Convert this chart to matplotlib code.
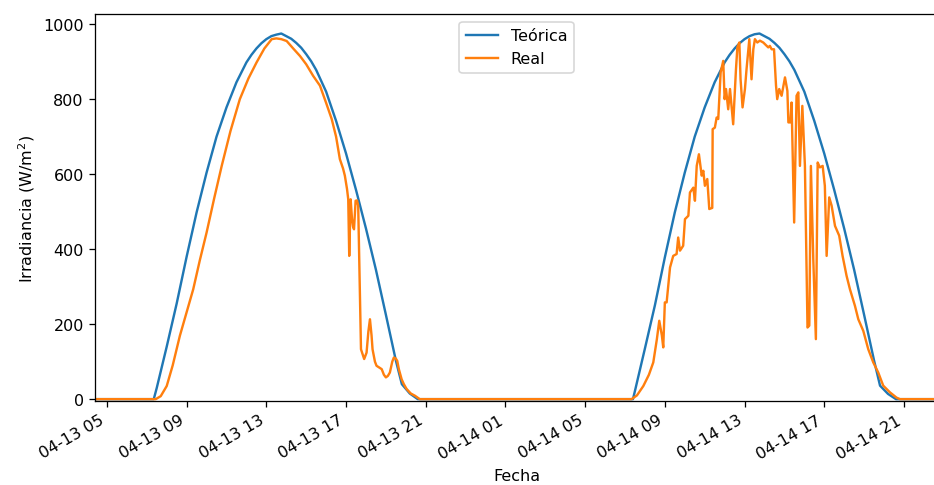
import matplotlib
matplotlib.use('Agg')
import matplotlib.pyplot as plt
import matplotlib.dates as mdates
import pandas as pd

# irradiancia teorica (hora del dia, W/m2)
horas_teo_d1 = [7.35, 7.5, 8.0, 8.5, 9.0, 9.5, 10.0, 10.5, 11.0, 11.5, 12.0, 12.25, 12.5, 12.75, 13.0,
                13.25, 13.5, 13.75, 14.0, 14.25, 14.5, 14.75, 15.0, 15.25, 15.5, 16.0, 16.5, 17.0,
                17.5, 18.0, 18.5, 19.0, 19.5, 19.8, 20.2, 20.6]
teo_d1 = [0, 30, 140, 255, 380, 498, 604, 700, 778, 845, 898, 918, 935, 949, 960,
          968, 972, 975, 968, 961, 950, 937, 920, 901, 878, 820, 742, 655,
          558, 455, 345, 225, 103, 40, 15, 0]
horas_teo_d2 = [7.4, 7.5, 8.0, 8.5, 9.0, 9.5, 10.0, 10.5, 11.0, 11.5, 12.0, 12.25, 12.5, 12.75, 13.0,
                13.25, 13.5, 13.75, 14.0, 14.25, 14.5, 14.75, 15.0, 15.25, 15.5, 16.0, 16.5, 17.0,
                17.5, 18.0, 18.5, 19.0, 19.5, 19.8, 20.2, 20.6]
teo_d2 = [0, 22, 135, 250, 378, 498, 604, 700, 778, 845, 898, 918, 935, 949, 960,
          968, 973, 975, 968, 961, 950, 937, 920, 901, 878, 820, 742, 655,
          558, 455, 345, 225, 103, 36, 14, 0]

# irradiancia medida
horas_real_d1 = [7.45, 7.7, 8.0, 8.3, 8.66, 9.0, 9.33, 9.66, 10.0, 10.38, 10.76, 11.2, 11.67, 12.1,
                 12.51, 12.9, 13.27, 13.5, 13.75, 14.02, 14.35, 14.69, 15.0, 15.35, 15.69, 16.0,
                 16.28, 16.5, 16.69, 16.85, 16.94, 17.05, 17.11, 17.16, 17.23, 17.3, 17.35, 17.4,
                 17.48, 17.55, 17.61, 17.75, 17.91, 18.03, 18.12, 18.2, 18.28, 18.33, 18.45, 18.53,
                 18.65, 18.79, 18.9, 19.0, 19.1, 19.2, 19.32, 19.4, 19.5, 19.57, 19.65, 19.79, 19.9,
                 20.04, 20.25, 20.46, 20.7]
real_d1 = [0, 8, 35, 90, 169, 232, 293, 370, 444, 535, 622, 715, 800, 855,
           898, 935, 960, 962, 960, 955, 935, 915, 893, 862, 836, 790,
           747, 700, 640, 615, 596, 560, 533, 382, 533, 480, 460, 453,
           529, 530, 516, 133, 107, 124, 180, 213, 170, 133, 100, 89,
           85, 80, 65, 58, 62, 71, 100, 111, 108, 102, 80, 53, 40,
           27, 15, 9, 0]
horas_real_d2 = [7.33, 7.6, 7.92, 8.2, 8.42, 8.6, 8.72, 8.85, 8.92, 9.0, 9.09, 9.26, 9.42, 9.59,
                 9.67, 9.76, 9.92, 10.01, 10.18, 10.26, 10.43, 10.51, 10.6, 10.71, 10.85, 10.93,
                 11.01, 11.13, 11.23, 11.38, 11.4, 11.51, 11.6, 11.68, 11.8, 11.93, 12.0, 12.07,
                 12.18, 12.27, 12.43, 12.57, 12.64, 12.74, 12.8, 12.9, 13.02, 13.1, 13.24, 13.35,
                 13.44, 13.52, 13.64, 13.77, 13.94, 14.11, 14.19, 14.27, 14.36, 14.48, 14.58, 14.64,
                 14.74, 14.86, 15.03, 15.15, 15.2, 15.3, 15.36, 15.49, 15.61, 15.7, 15.78, 15.9,
                 16.03, 16.16, 16.25, 16.33, 16.45, 16.58, 16.67, 16.78, 16.92, 17.03, 17.12, 17.25,
                 17.37, 17.54, 17.75, 17.92, 18.12, 18.29, 18.54, 18.71, 18.96, 19.21, 19.46, 19.71,
                 19.96, 20.3, 20.63, 20.8]
real_d2 = [0, 10, 35, 65, 98, 160, 209, 170, 138, 258, 258, 351, 382, 387,
           431, 396, 409, 480, 489, 551, 564, 529, 622, 653, 596, 609,
           569, 587, 507, 510, 720, 724, 751, 747, 871, 902, 800, 827,
           773, 827, 733, 880, 938, 951, 853, 778, 827, 880, 960, 853,
           933, 960, 951, 956, 951, 942, 938, 942, 933, 933, 836, 800,
           827, 809, 858, 822, 738, 738, 791, 471, 809, 818, 622, 782,
           622, 191, 196, 622, 373, 160, 631, 618, 622, 569, 382, 538,
           516, 462, 436, 382, 329, 293, 249, 213, 182, 133, 98, 71,
           36, 18, 4, 0]

inicio = pd.Timestamp('2021-04-13')
h_ini, h_fin = 4.4, 46.71


def fechas(horas):
    return [inicio + pd.Timedelta(hours=h) for h in horas]


h_teo = [h_ini] + horas_teo_d1 + [h + 24 for h in horas_teo_d2] + [h_fin]
v_teo = [0] + teo_d1 + teo_d2 + [0]
h_real = [h_ini] + horas_real_d1 + [h + 24 for h in horas_real_d2] + [h_fin]
v_real = [0] + real_d1 + real_d2 + [0]

# la imagen original parece guardada a ~115 dpi
fig = plt.figure(figsize=(934 / 115, 486 / 115), dpi=115)
ax = fig.add_axes([0.1017, 0.1728, 0.9026, 0.7963])

ax.plot(fechas(h_teo), v_teo, color='tab:blue', label='Teórica')
ax.plot(fechas(h_real), v_real, color='tab:orange', label='Real')

ax.set_xlim(inicio + pd.Timedelta(hours=h_ini), inicio + pd.Timedelta(hours=h_fin))
ax.set_ylim(-5, 1027)
ax.xaxis.set_major_locator(mdates.HourLocator(byhour=range(1, 24, 4)))
ax.xaxis.set_major_formatter(mdates.DateFormatter('%m-%d %H'))
plt.setp(ax.get_xticklabels(), rotation=30, ha='right')

ax.set_xlabel('Fecha')
ax.set_ylabel('Irradiancia (W/m$^2$)')
ax.legend(loc='upper center')

fig.savefig('out.png', dpi=115)
